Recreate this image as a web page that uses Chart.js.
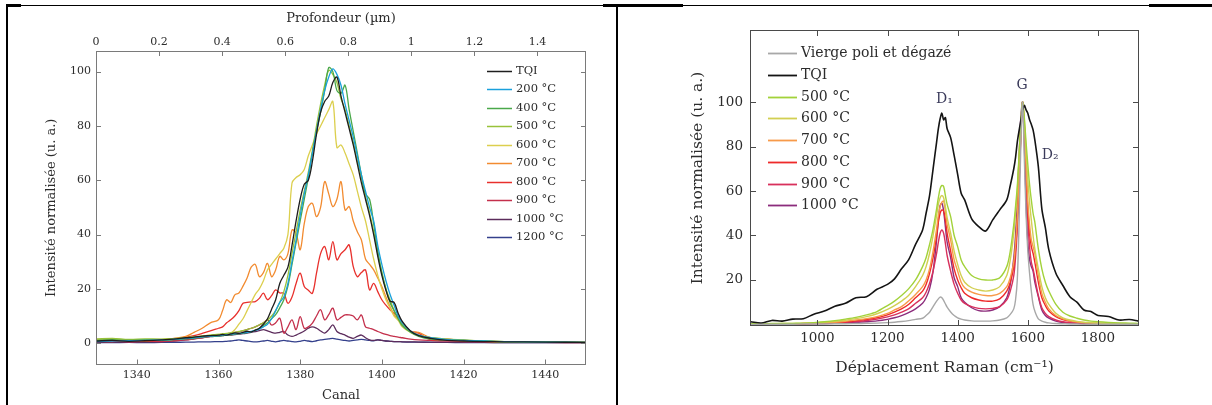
<!DOCTYPE html>
<html>
<head>
<meta charset="utf-8">
<script src="https://cdn.jsdelivr.net/npm/chart.js@4.4.1/dist/chart.umd.min.js"></script>
<style>
body { margin: 0; background: #fff; width: 1212px; height: 405px; overflow: hidden; position: relative; }
.ln { position: absolute; background: #000; }
#wrapA { position: absolute; left: 0; top: 0; width: 606px; height: 405px; }
#wrapB { position: absolute; left: 620px; top: 0; width: 592px; height: 405px; }
</style>
</head>
<body>
<div id="wrapA"><canvas id="rbs"></canvas></div>
<div id="wrapB"><canvas id="raman"></canvas></div>
<!-- table borders -->
<div class="ln" style="left:7px;top:5px;width:1205px;height:1px"></div>
<div class="ln" style="left:6px;top:4px;width:15px;height:3px"></div>
<div class="ln" style="left:603px;top:4px;width:80px;height:3px"></div>
<div class="ln" style="left:1149px;top:4px;width:63px;height:3px"></div>
<div class="ln" style="left:6px;top:5px;width:2px;height:400px"></div>
<div class="ln" style="left:616px;top:5px;width:2px;height:400px"></div>
<script>
// ---------- left chart : RBS profiles (canal) ----------
const canal = [1330,1334,1338,1342,1346,1349,1352,1354,1356,1358,
  1360,1361,1362,1363,1364,1365,1366,1367,1368,1369,
  1370,1371,1372,1373,1374,1375,1376,1377,1378,1379,
  1380,1381,1382,1383,1384,1385,1386,1387,1388,1389,
  1390,1391,1392,1393,1394,1395,1396,1397,1398,1399,
  1400,1401,1402,1403,1404,1405,
  1407,1409,1412,1416,1420,1425,1430,1440,1450];

const rbsTQI = [0.8,1.0,0.7,0.9,1.2,1.5,2.0,2.2,2.6,2.8,
  3.0,3.2,3.0,3.4,3.8,3.6,4.0,4.4,4.2,4.8,
  5.5,7.0,9.0,12.5,16.0,22.0,25.0,28.0,36.0,45.0,
  53.0,58.5,60.0,67.0,77.0,85.0,89.0,91.0,96.0,98.0,
  91.0,85.0,79.0,73.0,66.0,59.0,53.0,47.0,40.0,32.0,
  25.0,19.5,15.5,15.0,11.0,8.0,
  4.5,2.8,1.8,1.0,0.8,0.6,0.5,0.4,0.3];
const rbs200 = [0.6,0.8,0.9,1.0,1.2,1.4,1.8,2.0,2.3,2.6,
  2.8,3.0,3.1,3.3,3.5,3.6,3.8,4.0,4.3,4.7,
  5.2,6.0,7.0,9.0,12.0,15.0,17.0,22.0,30.0,38.0,
  47.0,55.0,62.0,70.0,78.0,86.0,93.0,98.0,101.0,99.0,
  95.0,88.0,82.0,76.0,69.0,62.0,56.0,50.0,45.0,36.0,
  29.0,23.0,18.0,14.0,10.0,7.5,
  4.5,3.0,2.0,1.3,1.0,0.8,0.6,0.4,0.3];
const rbs400 = [1.0,1.3,1.0,1.2,1.0,1.3,1.6,1.8,2.2,2.5,
  2.7,2.8,3.0,3.1,3.4,3.5,3.7,3.9,4.2,4.8,
  5.5,6.5,7.5,9.0,10.5,13.0,16.0,21.0,29.0,37.0,
  45.0,53.0,61.0,70.0,78.0,85.0,93.0,101.5,100.0,93.0,
  92.0,95.0,86.0,78.0,70.0,62.0,55.0,53.0,44.0,34.0,
  26.0,20.0,15.0,12.0,9.0,6.5,
  4.0,2.5,1.5,1.2,1.0,0.8,0.5,0.5,0.3];
const rbs500 = [1.5,1.8,1.4,1.6,1.5,1.7,2.0,2.3,2.6,3.0,
  3.2,3.4,3.6,3.8,4.0,4.3,4.6,5.0,5.5,6.0,
  6.8,7.5,8.5,10.0,12.0,15.0,19.0,25.0,33.0,41.0,
  49.0,56.0,63.0,71.0,80.0,88.0,95.0,100.5,99.0,96.0,
  90.0,86.0,80.0,74.0,67.0,61.0,54.0,48.0,41.0,33.0,
  26.0,20.0,16.0,12.0,9.0,7.0,
  4.5,3.0,2.0,1.5,1.2,0.8,0.6,0.4,0.3];
const rbs600 = [1.2,1.5,1.1,1.3,1.4,1.6,2.0,2.3,2.6,3.0,
  3.2,3.4,3.5,3.7,5.0,7.0,9.0,12.0,15.0,18.0,
  20.0,23.0,27.0,29.0,31.0,33.0,35.0,40.0,59.0,61.0,
  62.0,64.0,69.0,73.0,77.0,80.0,83.0,86.0,89.0,72.0,
  73.0,70.0,66.0,62.0,56.0,50.0,45.0,38.0,31.0,25.0,
  20.0,16.0,13.0,10.0,8.5,6.0,
  4.0,2.8,2.0,1.5,1.0,0.8,0.6,0.5,0.3];
const rbs700 = [1.5,1.0,1.3,0.9,1.2,1.8,2.5,4.0,5.5,7.5,
  8.6,12.0,16.0,15.0,17.8,18.5,21.0,24.0,28.0,29.0,
  24.5,26.0,29.4,24.5,27.0,32.0,30.7,33.0,41.7,40.5,
  34.4,44.0,50.3,51.5,46.6,50.0,59.5,55.0,50.3,53.0,
  59.5,49.0,50.3,45.0,41.0,38.0,31.0,29.0,27.0,24.0,
  20.9,17.0,13.5,10.5,8.5,7.4,
  4.3,4.0,2.0,1.2,0.9,0.7,0.5,0.4,0.3];
const rbs800 = [0.8,0.6,0.9,0.7,1.0,1.5,2.2,2.8,3.6,4.5,
  5.5,6.0,7.5,8.6,10.0,12.0,14.7,15.0,15.2,15.3,
  16.5,18.4,16.0,17.5,19.6,18.5,18.4,14.7,17.0,22.0,
  25.8,20.9,19.5,18.4,25.8,33.0,35.6,30.7,37.4,30.7,
  33.0,34.4,36.2,28.2,24.5,26.0,27.0,19.6,22.0,19.0,
  16.0,14.0,12.3,11.0,9.8,7.5,
  4.5,3.7,1.2,1.5,1.0,0.8,0.5,0.4,0.3];
const rbs900 = [0.6,0.8,0.5,0.7,0.6,0.9,1.2,1.6,2.0,2.5,
  3.0,3.2,3.5,3.7,4.0,4.2,4.6,5.0,5.5,6.0,
  6.7,7.5,8.6,6.7,7.5,9.2,3.7,6.0,8.6,5.0,
  9.8,5.5,6.0,7.4,10.0,12.3,8.6,10.5,12.9,8.6,
  9.5,10.4,10.4,10.0,8.6,10.4,6.0,5.5,5.0,4.3,
  3.7,3.2,2.8,2.5,2.2,2.0,
  1.5,1.2,1.0,0.8,0.6,0.5,0.4,0.3,0.2];
const rbs1000 = [0.3,0.4,0.3,0.4,0.5,0.8,1.2,1.6,2.0,2.4,
  2.6,2.8,3.0,3.0,3.2,3.3,3.5,3.7,4.0,4.3,
  4.6,5.0,4.5,4.0,3.7,4.0,4.3,3.0,2.5,3.0,
  3.7,4.5,5.5,6.0,5.5,4.5,3.7,5.0,6.7,4.3,
  3.5,3.0,2.2,1.8,2.5,3.0,2.0,1.2,1.0,1.2,
  1.0,0.8,0.7,0.6,0.6,0.5,
  0.5,0.4,0.4,0.3,0.3,0.3,0.2,0.2,0.2];
const rbs1200 = [0.2,0.2,0.3,0.2,0.3,0.3,0.4,0.4,0.5,0.5,
  0.6,0.6,0.7,0.8,1.0,1.2,1.0,0.8,0.6,0.5,
  0.6,0.8,1.0,0.7,0.5,0.8,1.0,0.8,0.6,0.5,
  0.7,1.0,0.8,0.6,0.9,1.2,1.4,1.6,1.8,1.5,
  1.2,1.0,0.8,1.0,1.2,1.4,1.2,1.0,0.9,1.2,
  1.0,0.8,0.7,0.6,0.6,0.5,
  0.4,0.4,0.3,0.3,0.2,0.2,0.2,0.2,0.2];

const rbsLabels = ['TQI','200 °C','400 °C','500 °C','600 °C','700 °C','800 °C','900 °C','1000 °C','1200 °C'];
const rbsValues = [rbsTQI, rbs200, rbs400, rbs500, rbs600, rbs700, rbs800, rbs900, rbs1000, rbs1200];
const rbsColors = ['#1e1e1e','#1aa0dc','#4aa84a','#98c23a','#dccf4e','#f28b30','#e8302c','#c4304c','#5c2c5c','#34408c'];
const canalTicks = [1340, 1360, 1380, 1400, 1420, 1440];
const depthTicks = [0, 0.2, 0.4, 0.6, 0.8, 1, 1.2, 1.4];
const rbsYTicks = [0, 20, 40, 60, 80, 100];

// ---------- right chart : Raman spectra ----------
const raman = [810,840,870,900,930,960,990,1020,1050,1080,1110,1140,1170,1200,
  1220,1240,1260,1280,1300,1310,1320,1330,1340,
  1345,1350,1355,1360,1365,1370,
  1380,1390,1400,1410,1420,1440,1460,1480,1500,1520,
  1540,1550,1560,1565,1570,1575,
  1580,1585,1590,1595,1600,1605,1610,1615,1620,
  1630,1640,1650,1660,1680,
  1700,1720,1740,1760,1780,1800,1830,1860,1890,1915];

const ramVierge = [0.0,0.1,0.1,0.1,0.1,0.2,0.2,0.2,0.3,0.3,0.4,0.5,0.6,0.8,
  1.0,1.3,1.7,2.3,2.8,4.0,5.5,8.0,10.5,
  11.5,12.3,12.0,10.8,9.3,7.8,
  5.6,4.0,3.0,2.4,2.0,1.6,1.5,1.5,1.6,2.0,
  3.0,4.5,7.0,11.0,20.0,45.0,
  80.0,100.0,75.0,50.0,33.0,23.0,15.0,9.0,6.0,
  2.5,1.5,1.0,0.7,0.4,
  0.3,0.2,0.2,0.1,0.1,0.1,0.1,0.1,0.1,0.1];
const ramTQI = [1.2,0.6,1.8,1.5,2.4,2.6,4.6,6.0,8.2,9.5,12.0,12.5,15.8,18.0,
  20.5,25.0,29.0,36.0,42.5,50.0,58.0,70.0,82.0,
  88.0,92.5,95.0,92.0,93.0,88.0,
  84.0,76.0,67.5,59.0,56.0,47.5,44.0,42.0,47.0,51.5,
  56.0,62.5,70.0,75.0,82.0,87.0,
  91.5,96.0,98.5,96.5,95.0,92.0,90.0,87.5,83.0,
  71.0,52.0,43.5,33.5,23.0,
  17.5,12.5,10.0,6.5,5.8,4.0,3.6,2.0,2.2,1.5];
const ram500 = [0.3,0.3,0.4,0.4,0.5,0.6,0.8,1.2,1.7,2.4,3.2,4.3,5.8,8.5,
  10.5,13.0,16.0,20.0,26.0,30.0,36.0,43.0,52.0,
  57.0,61.0,62.5,62.0,58.0,54.0,
  48.5,40.0,35.0,29.0,26.0,22.0,20.5,20.0,20.0,21.0,
  26.0,33.0,45.0,53.0,62.0,76.0,
  90.0,100.0,93.0,82.0,72.0,63.0,56.0,50.0,46.0,
  34.0,25.0,19.0,15.0,9.0,
  5.5,3.8,2.8,2.0,1.5,1.2,0.9,0.7,0.6,0.5];
const ram600 = [0.2,0.3,0.3,0.4,0.4,0.5,0.7,1.0,1.4,1.9,2.6,3.5,4.8,6.8,
  8.5,10.5,13.0,17.0,22.0,26.0,32.0,40.0,49.0,
  54.0,57.0,58.0,57.0,53.0,48.0,
  41.0,33.0,27.0,22.0,19.0,16.5,15.5,15.0,15.5,17.0,
  22.0,29.0,41.0,50.0,60.0,75.0,
  90.0,100.0,92.0,78.0,65.0,55.0,47.0,40.0,34.0,
  25.0,17.0,12.0,9.0,5.0,
  3.0,2.0,1.4,1.0,0.8,0.6,0.5,0.4,0.3,0.3];
const ram700 = [0.2,0.2,0.3,0.3,0.3,0.4,0.5,0.7,1.0,1.4,2.0,2.6,3.5,5.0,
  6.5,8.0,10.5,13.5,17.0,20.0,25.0,33.0,43.0,
  49.0,53.0,55.0,55.5,51.0,45.0,
  38.0,29.0,24.0,19.0,16.5,14.5,13.5,13.0,13.0,14.0,
  17.0,21.0,28.0,36.0,48.0,65.0,
  85.0,99.0,90.0,72.0,55.0,45.0,38.0,35.0,32.0,
  22.0,14.0,10.0,7.0,4.0,
  2.5,1.6,1.1,0.8,0.6,0.5,0.4,0.3,0.3,0.3];
const ram800 = [0.2,0.2,0.2,0.3,0.3,0.4,0.5,0.6,0.9,1.2,1.7,2.3,3.0,4.3,
  5.5,7.0,9.0,12.0,15.0,18.0,23.0,30.0,40.0,
  46.0,50.0,51.5,51.0,47.0,41.0,
  33.0,25.0,20.0,16.5,14.0,12.0,11.0,10.5,10.5,11.5,
  15.0,19.0,26.0,34.0,46.0,64.0,
  85.0,100.0,89.0,70.0,52.0,41.0,35.0,32.0,28.0,
  19.0,12.0,8.5,6.0,3.5,
  2.2,1.5,1.0,0.7,0.5,0.4,0.3,0.3,0.3,0.3];
const ram900 = [0.2,0.2,0.2,0.2,0.3,0.3,0.4,0.5,0.7,1.0,1.3,1.8,2.4,3.4,
  4.3,5.5,7.0,9.5,12.0,14.5,18.5,24.0,32.0,
  37.0,41.0,42.5,41.0,36.5,31.0,
  24.0,18.0,14.0,11.0,9.5,8.0,7.2,7.0,7.2,8.0,
  11.0,15.0,22.0,30.0,43.0,62.0,
  84.0,100.0,87.0,66.0,47.0,35.0,28.0,25.0,21.0,
  13.0,7.5,5.0,3.5,2.0,
  1.2,0.8,0.6,0.5,0.4,0.3,0.3,0.3,0.2,0.2];
const ram1000 = [0.1,0.1,0.1,0.2,0.2,0.2,0.3,0.4,0.5,0.7,0.9,1.2,1.6,2.3,
  3.0,4.0,5.3,7.0,9.5,12.0,16.0,24.0,38.0,
  47.0,53.5,54.5,51.0,44.0,37.0,
  30.0,21.0,17.0,12.0,10.0,7.5,6.2,6.0,6.5,8.0,
  12.0,18.0,30.0,40.0,55.0,75.0,
  93.0,100.0,82.0,55.0,37.0,29.0,26.0,24.0,19.0,
  12.5,6.5,4.0,2.8,1.5,
  0.9,0.6,0.5,0.4,0.3,0.3,0.2,0.2,0.2,0.2];

const ramLabels = ['Vierge poli et dégazé','TQI','500 °C','600 °C','700 °C','800 °C','900 °C','1000 °C'];
const ramValues = [ramVierge, ramTQI, ram500, ram600, ram700, ram800, ram900, ram1000];
const ramColors = ['#a8a8a8','#141414','#a2d23a','#d2cf52','#f79a4a','#ee2a2a','#d8305c','#8c2c7c'];
const ramXTicks = [1000, 1200, 1400, 1600, 1800];
const ramYTicks = [20, 40, 60, 80, 100];
const peakText = ['D₁', 'G', 'D₂'];
const peakX = [1362, 1584, 1664];
const peakY = [101, 107.5, 76];

const SERIF = "'DejaVu Serif', serif";
const TXT = '#2c2c2c';

// frame, inward ticks, legend and peak names drawn over the plot
const framePlugin = {
  id: 'framePlugin',
  afterDatasetsDraw(chart, args, o) {
    const ctx = chart.ctx, a = chart.chartArea;
    ctx.save();
    ctx.strokeStyle = o.color;
    ctx.lineWidth = 1;
    ctx.strokeRect(Math.round(a.left) + 0.5, Math.round(a.top) + 0.5,
      Math.round(a.right - a.left) - 1, Math.round(a.bottom - a.top) - 1);
    ctx.beginPath();
    o.marks.forEach(([id, edge]) => {
      const s = chart.scales[id];
      s.ticks.forEach(t => {
        const p = Math.round(s.getPixelForValue(t.value)) + 0.5;
        if (edge === 'bottom') { ctx.moveTo(p, a.bottom); ctx.lineTo(p, a.bottom - o.len); }
        if (edge === 'top') { ctx.moveTo(p, a.top); ctx.lineTo(p, a.top + o.len); }
        if (edge === 'left') { ctx.moveTo(a.left, p); ctx.lineTo(a.left + o.len, p); }
        if (edge === 'right') { ctx.moveTo(a.right, p); ctx.lineTo(a.right - o.len, p); }
      });
    });
    ctx.stroke();

    // legend
    const lg = o.legend;
    ctx.font = lg.size + 'px ' + SERIF;
    ctx.textBaseline = 'middle';
    ctx.textAlign = 'left';
    chart.data.datasets.forEach((ds, i) => {
      const y = Math.round(lg.y + i * lg.dy) + 0.5;
      ctx.strokeStyle = ds.borderColor;
      ctx.lineWidth = lg.lw;
      ctx.beginPath();
      ctx.moveTo(lg.x, y);
      ctx.lineTo(lg.x + lg.len, y);
      ctx.stroke();
      ctx.fillStyle = TXT;
      ctx.fillText(ds.label, lg.x + lg.len + lg.gap, y);
    });

    // peak names
    if (o.peaks) {
      ctx.font = o.peaks.size + 'px ' + SERIF;
      ctx.textAlign = 'center';
      ctx.fillStyle = '#3a3a5a';
      peakText.forEach((t, i) => {
        ctx.fillText(t, chart.scales.x.getPixelForValue(peakX[i]), chart.scales.y.getPixelForValue(peakY[i]));
      });
    }
    ctx.restore();
  }
};

function fixed(list) {
  return s => { s.ticks = list.map(v => ({ value: v })); };
}
const plain = v => String(Math.round(v * 10) / 10);

// ---- RBS chart
new Chart(document.getElementById('rbs'), {
  type: 'line',
  data: {
    datasets: rbsLabels.map((lab, i) => ({
      label: lab,
      data: canal.map((c, j) => ({ x: c, y: rbsValues[i][j] })),
      borderColor: rbsColors[i],
      borderWidth: 1.3,
      pointRadius: 0,
      tension: 0.35,
      fill: false
    }))
  },
  options: {
    animation: false,
    responsive: true,
    maintainAspectRatio: false,
    layout: { padding: { left: 0, right: 20, top: 0, bottom: 0 } },
    plugins: {
      legend: { display: false },
      tooltip: { enabled: false },
      framePlugin: {
        color: '#7a7a7a', len: 5,
        marks: [['x', 'bottom'], ['x2', 'top'], ['y', 'left'], ['y', 'right']],
        legend: { x: 487, y: 70.7, dy: 18.5, len: 25, gap: 4, size: 11.5, lw: 1.5 }
      }
    },
    scales: {
      x: {
        type: 'linear', position: 'bottom', min: 1330, max: 1450,
        afterBuildTicks: fixed(canalTicks),
        afterFit: s => { s.height = 40.5; },
        grid: { display: false, drawTicks: false }, border: { display: false },
        ticks: { padding: 4, color: TXT, font: { family: SERIF, size: 11 }, callback: plain },
        title: { display: true, text: 'Canal', color: TXT, padding: { top: 0, bottom: 2 }, font: { family: SERIF, size: 13 } }
      },
      x2: {
        type: 'linear', position: 'top', min: 0, max: 1.554,
        afterBuildTicks: fixed(depthTicks),
        afterFit: s => { s.height = 51; },
        grid: { display: false, drawTicks: false }, border: { display: false },
        ticks: { padding: 2, color: TXT, font: { family: SERIF, size: 11 }, callback: plain },
        title: { display: true, text: 'Profondeur (µm)', color: TXT, padding: { top: 11, bottom: 0 }, font: { family: SERIF, size: 13 } }
      },
      y: {
        min: -7.85, max: 107.6,
        afterBuildTicks: fixed(rbsYTicks),
        afterFit: s => { s.width = 96; },
        grid: { display: false, drawTicks: false }, border: { display: false },
        ticks: { padding: 5, color: TXT, font: { family: SERIF, size: 11 }, callback: plain },
        title: { display: true, text: 'Intensité normalisée (u. a.)', color: TXT, padding: { top: 44, bottom: 0 }, font: { family: SERIF, size: 13 } }
      }
    }
  },
  plugins: [framePlugin]
});

// ---- Raman chart
new Chart(document.getElementById('raman'), {
  type: 'line',
  data: {
    datasets: ramLabels.map((lab, i) => ({
      label: lab,
      data: raman.map((r, j) => ({ x: r, y: ramValues[i][j] })),
      borderColor: ramColors[i],
      borderWidth: i === 1 ? 1.6 : 1.4,
      pointRadius: 0,
      tension: 0.3,
      fill: false
    }))
  },
  options: {
    animation: false,
    responsive: true,
    maintainAspectRatio: false,
    layout: { padding: { left: 0, right: 73, top: 30, bottom: 0 } },
    plugins: {
      legend: { display: false },
      tooltip: { enabled: false },
      framePlugin: {
        color: '#4a4a4a', len: 6,
        marks: [['x', 'bottom'], ['x', 'top'], ['y', 'left'], ['y', 'right']],
        legend: { x: 148, y: 53.3, dy: 21.7, len: 29, gap: 4, size: 14, lw: 1.8 },
        peaks: { size: 14 }
      }
    },
    scales: {
      x: {
        type: 'linear', position: 'bottom', min: 808, max: 1917,
        afterBuildTicks: fixed(ramXTicks),
        afterFit: s => { s.height = 79; },
        grid: { display: false, drawTicks: false }, border: { display: false },
        ticks: { padding: 4, color: TXT, font: { family: SERIF, size: 13.5 }, callback: plain },
        title: { display: true, text: 'Déplacement Raman (cm⁻¹)', color: TXT, padding: { top: 0, bottom: 28 }, font: { family: SERIF, size: 15.5 } }
      },
      y: {
        min: -0.7, max: 132.4,
        afterBuildTicks: fixed(ramYTicks),
        afterFit: s => { s.width = 130; },
        grid: { display: false, drawTicks: false }, border: { display: false },
        ticks: { padding: 7, color: TXT, font: { family: SERIF, size: 13.5 }, callback: plain },
        title: { display: true, text: 'Intensité normalisée (u. a.)', color: TXT, padding: { top: 69, bottom: 0 }, font: { family: SERIF, size: 15.5 } }
      }
    }
  },
  plugins: [framePlugin]
});
</script>
</body>
</html>
